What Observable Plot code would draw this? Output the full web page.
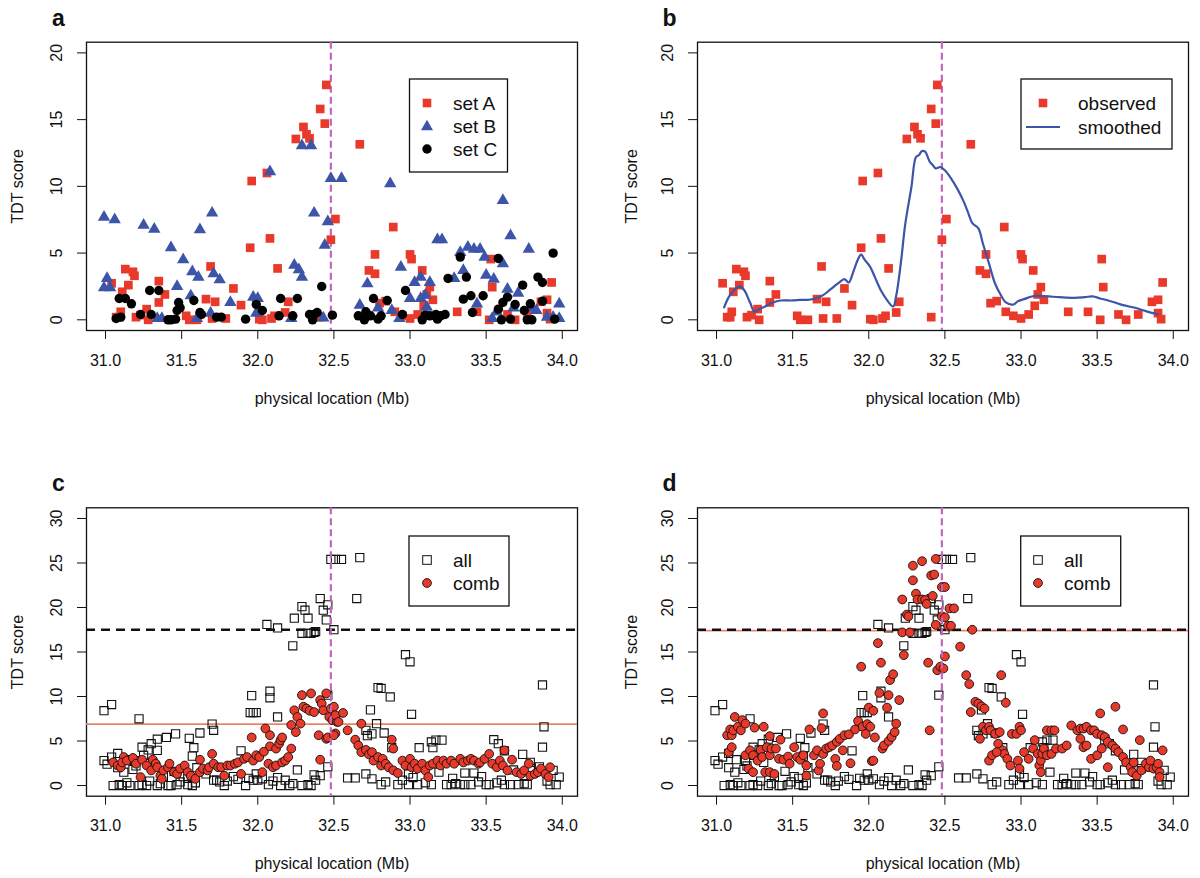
<!DOCTYPE html>
<html>
<head>
<meta charset="utf-8">
<script src="https://cdn.jsdelivr.net/npm/d3@7"></script>
<script src="https://cdn.jsdelivr.net/npm/@observablehq/plot@0.6"></script>
<style>
  html, body { margin: 0; padding: 0; background: #fff; }
  #wrap { position: relative; width: 1200px; height: 878px; font-family: "Liberation Sans", Arial, Helvetica, sans-serif; }
  .panel { position: absolute; }
</style>
</head>
<body>
<div id="wrap">
  <div class="panel" id="pa" style="left:0;top:0"></div>
  <div class="panel" id="pb" style="left:600px;top:0"></div>
  <div class="panel" id="pc" style="left:0;top:440px"></div>
  <div class="panel" id="pd" style="left:600px;top:440px"></div>
</div>
<script>
// ---------------- data ----------------
const xTicks = [31.0, 31.5, 32.0, 32.5, 33.0, 33.5, 34.0];
const yTicksTop = [0, 5, 10, 15, 20];
const yTicksBottom = [0, 5, 10, 15, 20, 25, 30];
const peakLocation = 32.48;
const thresholdAll = 17.5;
const thresholdCombC = 6.9;
const thresholdCombD = 17.4;

const legendA = ["set A", "set B", "set C"];
const legendB = ["observed", "smoothed"];
const legendCD = ["all", "comb"];
const panelLabels = ["a", "b", "c", "d"];

const setA = [[31.04,2.74],[31.07,0.2],[31.09,0.2],[31.10,0.6],[31.11,2.1],[31.13,3.8],[31.15,2.6],[31.18,3.6],[31.19,3.3],[31.20,0.2],[31.23,0.35],[31.27,0.8],[31.28,0.0],[31.35,2.9],[31.35,1.3],[31.39,1.9],[31.53,0.3],[31.55,0],[31.60,0],[31.66,1.55],[31.69,4.0],[31.70,0.1],[31.72,1.35],[31.79,0.1],[31.84,2.35],[31.89,1.1],[31.95,5.4],[31.96,10.4],[32.01,0.05],[32.03,0],[32.06,11.0],[32.08,6.1],[32.09,0.1],[32.11,0.3],[32.13,3.85],[32.18,0.55],[32.20,1.35],[32.25,13.55],[32.30,14.45],[32.32,13.9],[32.34,13.6],[32.41,15.8],[32.41,0.2],[32.44,14.7],[32.45,17.6],[32.48,6.0],[32.51,7.55],[32.67,13.15],[32.73,3.7],[32.77,4.9],[32.77,3.45],[32.80,1.25],[32.84,1.4],[32.89,6.95],[32.90,0.6],[32.95,0.3],[33.00,4.9],[33.01,4.55],[33.00,0.1],[33.05,0.4],[33.08,3.7],[33.09,1.05],[33.11,1.9],[33.13,2.45],[33.15,1.5],[33.31,0.6],[33.44,0.6],[33.52,0],[33.53,4.55],[33.54,2.45],[33.64,0.4],[33.69,0],[33.77,0.4],[33.86,1.35],[33.90,1.5],[33.90,0.5],[33.92,0.05],[33.93,2.8]];

const setB = [[30.99,7.7],[31.06,7.5],[31.01,3.1],[30.99,2.4],[31.03,2.4],[31.25,7.1],[31.32,6.8],[31.34,0.1],[31.37,0.1],[31.43,5.4],[31.47,2.5],[31.51,4.5],[31.57,3.6],[31.56,1.8],[31.60,0.1],[31.61,3.2],[31.62,6.75],[31.70,8.0],[31.71,3.45],[31.75,3.0],[31.69,0.5],[31.82,1.3],[31.97,1.7],[32.00,1.6],[31.99,0.5],[32.08,11.1],[32.22,0.1],[32.24,4.1],[32.27,3.75],[32.29,3.2],[32.29,13.05],[32.35,13.05],[32.37,8.0],[32.44,5.6],[32.46,7.35],[32.48,10.6],[32.55,10.6],[32.43,0.15],[32.67,1.1],[32.72,2.7],[32.79,0.9],[32.87,10.2],[32.88,0.7],[32.93,0.1],[32.94,3.95],[33.00,1.6],[33.03,2.8],[33.07,3.2],[33.07,1.6],[33.10,1.85],[33.11,0.95],[33.13,2.8],[33.18,6.0],[33.21,6.0],[33.29,3.1],[33.35,3.7],[33.33,5.05],[33.38,5.45],[33.42,5.3],[33.46,5.3],[33.44,1.2],[33.49,4.7],[33.50,3.35],[33.55,3.05],[33.54,0.1],[33.61,4.2],[33.61,8.95],[33.64,2.3],[33.66,6.3],[33.71,2.0],[33.68,0.9],[33.78,5.3],[33.80,0.9],[33.83,0.7],[33.90,0.2],[33.94,0.2],[33.98,1.2],[33.98,0.1],[33.57,0.6]];

const setC = [[31.07,0.1],[31.10,0.2],[31.09,1.6],[31.13,1.6],[31.17,1.2],[31.23,0.4],[31.29,2.2],[31.30,0.4],[31.35,2.2],[31.41,0],[31.43,0],[31.46,0.05],[31.47,0.7],[31.48,1.3],[31.49,0.9],[31.58,1.45],[31.62,0.55],[31.63,0.4],[31.73,0.2],[31.76,0.2],[31.92,0.05],[31.99,1.15],[32.03,0.7],[32.15,1.6],[32.14,0.3],[32.23,0.3],[32.26,1.6],[32.34,0.4],[32.37,0.4],[32.36,0],[32.39,0.55],[32.42,2.5],[32.49,0.35],[32.66,0.3],[32.70,0],[32.71,0.6],[32.74,0.3],[32.76,1.6],[32.79,0.05],[32.81,0.3],[32.85,1.45],[32.95,0.4],[32.97,2.2],[33.08,0],[33.10,0.35],[33.13,0.3],[33.17,0.4],[33.18,0.05],[33.20,0.3],[33.23,0.4],[33.25,3.1],[33.33,4.7],[33.35,1.55],[33.37,3.2],[33.40,1.8],[33.41,0.55],[33.48,1.8],[33.58,4.6],[33.58,0.8],[33.60,0],[33.61,1.3],[33.64,1.7],[33.66,0.05],[33.69,1.15],[33.74,2.6],[33.75,0.7],[33.77,0],[33.79,1.2],[33.80,0],[33.84,3.2],[33.87,2.8],[33.87,1.4],[33.94,5.0],[33.95,0.05]];

const smoothed = [[31.05,0.93],[31.08,1.7],[31.11,2.15],[31.15,2.5],[31.18,2.25],[31.22,1.3],[31.25,0.6],[31.28,0.8],[31.32,1.0],[31.37,1.3],[31.42,1.45],[31.50,1.45],[31.55,1.5],[31.60,1.5],[31.65,1.6],[31.70,1.85],[31.75,2.3],[31.80,2.75],[31.84,3.05],[31.86,2.85],[31.87,2.8],[31.90,3.65],[31.93,4.55],[31.95,4.9],[31.97,4.55],[32.01,3.95],[32.04,3.2],[32.08,2.2],[32.11,1.65],[32.16,1.0],[32.18,1.8],[32.21,4.2],[32.24,7.2],[32.28,9.95],[32.31,12.2],[32.33,12.35],[32.35,12.65],[32.37,12.6],[32.40,11.85],[32.42,11.6],[32.44,11.35],[32.47,11.45],[32.50,11.2],[32.54,10.6],[32.58,9.85],[32.62,8.95],[32.65,8.1],[32.68,7.25],[32.72,6.85],[32.75,5.7],[32.79,4.2],[32.83,2.7],[32.87,1.8],[32.90,1.3],[32.95,1.15],[32.98,1.4],[33.02,1.55],[33.07,1.75],[33.10,1.8],[33.18,1.75],[33.25,1.7],[33.35,1.65],[33.42,1.7],[33.47,1.75],[33.52,1.6],[33.60,1.35],[33.67,1.1],[33.75,0.9],[33.82,0.65],[33.90,0.4]];

const allMarkers = [[30.99,8.4],[31.04,9.1],[31.22,7.5],[30.99,2.8],[31.01,2.4],[31.04,3.2],[31.08,3.6],[31.12,1.5],[31.19,2.8],[31.24,4.3],[31.28,4.0],[31.30,4.7],[31.34,5.2],[31.34,3.95],[31.40,5.4],[31.46,5.8],[31.55,5.3],[31.58,4.25],[31.62,5.9],[31.57,3.3],[31.70,6.9],[31.71,6.2],[31.89,3.9],[31.96,10.1],[31.95,8.2],[31.97,8.2],[31.99,8.2],[32.08,10.6],[32.08,9.85],[32.13,7.7],[32.26,1.75],[32.46,2.1],[32.46,10.15],
[32.06,18.1],[32.13,17.7],[32.23,15.7],[32.24,18.8],[32.29,20.1],[32.31,19.7],[32.33,18.8],[32.29,17.1],[32.33,17.1],[32.35,17.1],[32.37,17.2],[32.38,17.3],[32.41,21.0],[32.43,19.7],[32.46,20.3],[32.45,18.6],[32.50,17.5],[32.48,25.4],[32.51,25.4],[32.55,25.4],[32.67,25.6],[32.65,21.0],
[31.05,0],[31.09,0.1],[31.11,0],[31.14,0.3],[31.16,0],[31.22,0],[31.24,0.1],[31.27,0],[31.29,0.5],[31.34,0],[31.36,0.2],[31.41,0],[31.43,0],[31.47,0.1],[31.49,0.4],[31.54,0.1],[31.57,0],[31.59,0.3],[31.71,0.6],[31.75,0.4],[31.78,0],[31.80,0.5],[31.92,0],[31.97,0.6],[31.99,1.3],[32.00,0.6],[32.03,0.75],[32.07,0.1],[32.10,0.5],[32.13,0.9],[32.15,0],[32.21,0],[32.23,0.2],[32.29,0],[32.33,0.1],[32.35,0],[32.38,0.6],[32.41,1.1],
[31.08,2.0],[31.13,2.9],[31.18,1.8],[31.20,2.2],[31.25,3.4],[31.31,2.6],[31.38,1.0],[31.45,1.6],[31.51,1.0],[31.54,0.8],[31.60,2.0],[31.66,1.3],[31.73,0.6],[31.84,1.0],[31.87,0.7],[31.94,0.8],[32.18,0.6],[32.37,1.2],
[32.59,0.85],[32.64,0.85],[32.97,14.7],[33.00,13.9],[32.79,11.0],[32.81,10.9],[32.87,9.95],[32.74,8.5],[33.01,8.0],[32.78,6.95],[32.71,6.2],[32.72,5.6],[32.75,5.8],[32.83,5.9],[32.88,4.25],[33.06,4.25],[33.15,4.25],[33.14,4.9],[33.17,5.1],[33.21,5.1],[33.55,5.15],[33.58,4.7],[33.62,3.9],[33.74,3.5],[33.87,11.3],[33.88,6.6],[33.87,4.3],[33.79,2.6],[33.85,2.1],[32.81,0.1],[32.75,0.75],[32.92,0.1],[32.99,0.1],[33.05,0.1],[33.14,0.1],[33.24,0.1],[33.27,0.1],[33.33,0.1],[33.36,0.1],[33.40,0.1],[33.50,0.1],[33.52,0.1],[33.62,0.1],[33.66,0.1],[33.71,0.1],[33.77,0.1],[33.92,0.1],[33.96,0.1],[33.98,0.95],[33.94,1.7],[33.36,1.4],[33.19,1.5],[32.99,1.3],[32.71,1.3],[33.79,1.9],[33.42,1.4],[33.68,1.75],[32.84,0.4],[32.95,0.6],[33.10,0.3],[33.30,0.2],[33.45,0.4],[33.57,0.3],[33.75,0.2],[33.90,0.5],[33.02,0.9],[33.28,0.8],[33.47,1.0],[33.60,0.6]];

const combC = [[31.05,2.6],[31.08,2.25],[31.10,2.05],[31.12,3.2],[31.11,2.6],[31.14,2.8],[31.18,3.1],[31.20,2.45],[31.23,0.95],[31.24,2.9],[31.27,2.25],[31.30,1.7],[31.31,2.9],[31.33,2.45],[31.34,2.05],[31.36,1.1],[31.37,0.75],[31.38,1.7],[31.41,2.05],[31.42,2.45],[31.45,1.5],[31.47,1.3],[31.49,1.9],[31.52,2.25],[31.54,1.5],[31.56,1.1],[31.59,0.75],[31.62,1.5],[31.62,2.9],[31.64,1.9],[31.67,1.7],[31.68,2.05],[31.70,3.55],[31.71,2.45],[31.74,2.05],[31.76,2.05],[31.78,1.1],[31.80,2.25],[31.82,2.25],[31.85,2.45],[31.87,2.6],[31.89,1.3],[31.91,3.0],[31.93,3.2],[31.96,5.4],[31.97,2.8],[31.99,3.4],[32.01,3.2],[32.03,1.5],[32.04,3.8],[32.05,6.4],[32.07,2.45],[32.08,5.65],[32.08,4.4],[32.10,2.05],[32.12,2.25],[32.12,4.15],[32.14,4.7],[32.15,5.1],[32.16,5.4],[32.16,2.6],[32.18,2.8],[32.20,3.2],[32.22,4.15],[32.22,6.8],[32.24,8.45],[32.25,6.0],[32.26,7.7],[32.28,6.95],[32.29,10.15],[32.30,8.85],[32.32,8.65],[32.34,8.4],[32.35,10.35],[32.37,8.25],[32.40,5.65],[32.41,9.6],[32.41,2.9],[32.42,9.2],[32.43,8.45],[32.45,10.35],[32.45,5.25],[32.46,5.4],[32.47,7.7],[32.48,8.65],[32.49,7.35],[32.51,5.85],[32.52,7.15],
[32.50,8.85],[32.51,7.9],[32.50,5.65],[32.53,7.15],[32.56,8.15],[32.59,6.2],[32.64,5.15],[32.68,6.95],[32.66,4.5],[32.68,3.75],[32.71,4.0],[32.73,3.5],[32.75,3.75],[32.76,2.8],[32.79,3.2],[32.81,2.25],[32.82,3.0],[32.84,2.45],[32.86,2.05],[32.88,5.15],[32.89,4.15],[32.89,1.7],[32.92,1.4],[32.95,2.8],[32.97,2.25],[33.00,3.0],[33.01,2.05],[33.03,2.45],[33.05,1.9],[33.08,2.45],[33.10,1.7],[33.12,0.95],[33.13,2.25],[33.15,2.45],[33.18,2.8],[33.20,2.25],[33.22,2.8],[33.24,2.45],[33.27,2.8],[33.29,2.45],[33.33,3.0],[33.35,2.6],[33.38,2.8],[33.40,3.0],[33.42,2.8],[33.45,2.45],[33.46,2.6],[33.49,3.0],[33.52,3.55],[33.54,2.45],[33.57,2.05],[33.59,2.8],[33.61,2.25],[33.62,3.95],[33.64,1.7],[33.67,2.9],[33.70,1.5],[33.73,1.3],[33.75,1.7],[33.78,2.45],[33.79,1.1],[33.82,1.3],[33.84,1.5],[33.86,1.9],[33.89,1.3],[33.92,2.05],[33.91,0.95]];

const combD = [[31.07,5.65],[31.09,6.3],[31.10,5.65],[31.11,6.2],[31.12,7.7],[31.14,6.6],[31.16,6.2],[31.17,7.35],[31.19,6.95],[31.25,6.5],[31.31,6.6],[31.35,5.55],[31.42,5.15],[31.08,3.75],[31.10,4.3],[31.19,3.4],[31.22,3.95],[31.24,3.4],[31.27,2.8],[31.29,4.0],[31.30,3.2],[31.33,4.3],[31.35,3.4],[31.36,4.15],[31.39,4.15],[31.41,3.0],[31.44,2.9],[31.21,1.9],[31.24,1.5],[31.32,1.5],[31.35,1.5],[31.38,1.3],[31.47,3.25],[31.48,2.45],[31.51,4.3],[31.53,3.2],[31.55,2.9],[31.57,3.4],[31.59,2.25],[31.59,1.1],[31.61,6.3],[31.64,3.4],[31.66,3.95],[31.67,1.7],[31.68,2.45],[31.69,6.45],[31.70,8.1],[31.70,3.55],[31.72,4.15],[31.74,4.3],[31.76,4.5],[31.78,3.0],[31.79,4.9],[31.79,2.2],[31.81,5.25],[31.83,3.95],[31.84,5.65],[31.87,5.75],[31.88,2.5],[31.91,6.3],[31.93,7.25],[31.95,13.35],[31.96,6.6],[31.98,5.8],[31.99,6.9],[32.00,8.75],[32.01,6.6],[32.02,2.75],[32.03,2.8],[32.03,8.4],[32.04,5.4],[32.06,16.0],[32.07,10.4],[32.08,13.8],[32.09,4.15],[32.10,4.5],[32.12,8.75],[32.13,5.0],[32.13,10.15],[32.14,11.85],[32.15,5.45],[32.16,12.5],[32.17,6.0],[32.18,6.95],[32.20,9.6],[32.22,20.9],[32.23,14.65],[32.22,17.2],[32.25,19.2],[32.26,19.0],[32.27,17.2],[32.29,24.7],[32.29,23.05],[32.31,21.55],[32.32,20.9],[32.35,25.2],[32.35,20.9],[32.37,20.85],[32.38,20.4],[32.39,13.8],[32.40,6.2],[32.41,23.6],[32.42,21.3],[32.43,23.7],[32.44,25.45],[32.44,18.05],[32.45,12.95],[32.47,13.35],[32.48,22.3],[32.48,19.0],[32.50,14.5],[32.52,17.95],[32.53,19.9],
[32.50,22.3],[32.50,18.9],[32.49,13.15],[32.54,17.95],[32.56,19.9],[32.60,15.6],[32.64,12.4],[32.66,11.4],[32.68,17.5],[32.67,8.25],[32.70,9.4],[32.72,9.2],[32.74,8.9],[32.76,8.65],[32.87,12.4],[32.90,9.3],[32.73,5.25],[32.75,6.6],[32.77,6.2],[32.79,6.6],[32.80,6.2],[32.83,5.8],[32.85,4.7],[32.86,6.0],[32.88,3.95],[32.89,3.55],[32.91,3.0],[32.94,5.8],[32.97,5.8],[32.99,6.6],[33.00,6.2],[32.79,2.8],[32.81,3.4],[32.84,3.75],[32.93,2.25],[32.98,2.8],[32.99,1.9],[33.02,3.75],[33.05,3.0],[33.09,5.1],[33.08,4.15],[33.11,3.55],[33.12,2.25],[33.13,2.8],[33.14,3.55],[33.15,4.15],[33.13,1.5],[33.17,6.2],[33.20,6.2],[33.22,6.2],[33.17,3.4],[33.20,3.55],[33.23,4.15],[33.27,4.15],[33.30,4.5],[33.33,6.75],[33.37,6.2],[33.39,6.4],[33.41,6.4],[33.43,6.6],[33.46,6.2],[33.48,6.2],[33.50,5.8],[33.52,8.1],[33.53,5.65],[33.55,5.45],[33.62,8.85],[33.67,6.3],[33.57,4.9],[33.60,4.5],[33.62,4.15],[33.39,5.25],[33.41,4.3],[33.43,4.5],[33.46,3.0],[33.50,3.4],[33.53,4.15],[33.57,2.05],[33.64,3.75],[33.67,3.2],[33.69,2.6],[33.72,2.05],[33.73,1.5],[33.74,2.6],[33.76,1.1],[33.78,5.1],[33.79,1.7],[33.82,2.45],[33.84,2.05],[33.85,2.8],[33.87,1.9],[33.89,2.05],[33.90,2.45],[33.91,1.5],[33.93,3.95],[33.91,0.95]];

// ---------------- styles ----------------
const FONT = '"Liberation Sans", Arial, Helvetica, sans-serif';
const RED = "#E8392A";
const BLUE = "#3D55A8";
const PURPLE = "#C466BE";
const SALMON = "#E98466";
const XDOMAIN = [30.875, 34.1];

function axesAndText(yTicks, label, opts) {
  return [
    Plot.frame({stroke: "#111", strokeWidth: 1.3}),
    Plot.axisX({ticks: xTicks, tickSize: 9, tickFormat: () => "", stroke: "#111"}),
    Plot.axisY({ticks: yTicks, tickSize: 9, tickFormat: () => "", stroke: "#111"}),
    Plot.text(xTicks, {x: d => d, text: d => d.toFixed(1), frameAnchor: "bottom", dy: 30, lineAnchor: "middle", fontSize: 16, fill: "#111"}),
    Plot.text(yTicks, {y: d => d, text: d => String(d), frameAnchor: "left", dx: -30, rotate: -90, textAnchor: "middle", lineAnchor: "middle", fontSize: 16, fill: "#111"}),
    Plot.text(["physical location (Mb)"], {frameAnchor: "bottom", dy: 68, lineAnchor: "middle", fontSize: 16, fill: "#111"}),
    Plot.text(["TDT score"], {frameAnchor: "left", dx: opts.titleDx, rotate: -90, textAnchor: "middle", lineAnchor: "middle", fontSize: 16, fill: "#111"}),
    Plot.text([label], {frameAnchor: "top-left", dx: -28, dy: -24, textAnchor: "middle", lineAnchor: "middle", fontSize: 23, fontWeight: "bold", fill: "#111"})
  ];
}

function legend(svg, box, items) {
  const g = d3.select(svg).append("g").attr("font-family", FONT).attr("text-anchor", "start");
  g.append("rect").attr("x", box.x).attr("y", box.y).attr("width", box.w).attr("height", box.h)
    .attr("fill", "white").attr("stroke", "#111").attr("stroke-width", 1.3);
  items.forEach((it, i) => {
    const cy = box.row0 + i * box.rowGap;
    const sx = box.symX;
    if (it.kind === "square") {
      g.append("rect").attr("x", sx - 4.3).attr("y", cy - 4.3).attr("width", 8.6).attr("height", 8.6).attr("fill", it.fill).attr("stroke", it.stroke || "none").attr("stroke-width", 1);
    } else if (it.kind === "triangle") {
      const s = 12, h = s * Math.sqrt(3) / 2;
      g.append("path").attr("d", `M${sx},${cy - h * 0.6}L${sx + s / 2},${cy + h * 0.4}L${sx - s / 2},${cy + h * 0.4}Z`).attr("fill", it.fill);
    } else if (it.kind === "circle") {
      g.append("circle").attr("cx", sx).attr("cy", cy).attr("r", it.r || 4.7).attr("fill", it.fill).attr("stroke", it.stroke || "none").attr("stroke-width", 0.9);
    } else if (it.kind === "line") {
      g.append("line").attr("x1", sx - 17).attr("x2", sx + 17).attr("y1", cy).attr("y2", cy).attr("stroke", it.stroke).attr("stroke-width", 2.2);
    }
    g.append("text").attr("x", box.textX).attr("y", cy).attr("dy", "0.35em").attr("text-anchor", "start")
      .attr("font-size", 19).attr("fill", "#111").text(it.label);
  });
}

const common = {width: 600, style: {fontFamily: FONT, background: "white", overflow: "visible"}};

// ---------------- panel a ----------------
const pa = Plot.plot({
  ...common, height: 440,
  marginLeft: 86, marginRight: 23, marginTop: 41.7, marginBottom: 110,
  x: {domain: XDOMAIN}, y: {domain: [-0.8, 20.8]},
  marks: [
    ...axesAndText(yTicksTop, panelLabels[0], {titleDx: -69}),
    Plot.ruleX([peakLocation], {stroke: PURPLE, strokeWidth: 2.2, strokeDasharray: "7,4"}),
    Plot.dot(setA, {x: d => d[0], y: d => d[1], symbol: "square", r: 4.9, fill: RED}),
    Plot.dot(setB, {x: d => d[0], y: d => d[1], symbol: "triangle", r: 4.6, fill: BLUE}),
    Plot.dot(setC, {x: d => d[0], y: d => d[1], r: 4.7, fill: "black"})
  ]
});
document.getElementById("pa").appendChild(pa);
legend(pa, {x: 409.5, y: 79, w: 98, h: 93, row0: 103, rowGap: 23, symX: 427, textX: 453}, [
  {kind: "square", fill: RED, label: legendA[0]},
  {kind: "triangle", fill: BLUE, label: legendA[1]},
  {kind: "circle", fill: "black", label: legendA[2]}
]);

// ---------------- panel b ----------------
const pb = Plot.plot({
  ...common, height: 440,
  marginLeft: 97, marginRight: 12, marginTop: 41.7, marginBottom: 110,
  x: {domain: XDOMAIN}, y: {domain: [-0.8, 20.8]},
  marks: [
    ...axesAndText(yTicksTop, panelLabels[1], {titleDx: -66}),
    Plot.ruleX([peakLocation], {stroke: PURPLE, strokeWidth: 2.2, strokeDasharray: "7,4"}),
    Plot.dot(setA, {x: d => d[0], y: d => d[1], symbol: "square", r: 4.9, fill: RED}),
    Plot.line(smoothed, {x: d => d[0], y: d => d[1], stroke: BLUE, strokeWidth: 2.2, curve: "catmull-rom"})
  ]
});
document.getElementById("pb").appendChild(pb);
legend(pb, {x: 421, y: 79, w: 151, h: 70, row0: 103, rowGap: 24, symX: 443, textX: 478}, [
  {kind: "square", fill: RED, label: legendB[0]},
  {kind: "line", stroke: BLUE, label: legendB[1]}
]);

// ---------------- panel c ----------------
const pc = Plot.plot({
  ...common, height: 438,
  marginLeft: 86, marginRight: 23, marginTop: 67.3, marginBottom: 82.3,
  x: {domain: XDOMAIN}, y: {domain: [-1.2, 31.2]},
  marks: [
    ...axesAndText(yTicksBottom, panelLabels[2], {titleDx: -69}),
    Plot.ruleY([thresholdCombC], {stroke: SALMON, strokeWidth: 1.6}),
    Plot.ruleY([thresholdAll], {stroke: "#111", strokeWidth: 2.5, strokeDasharray: "9,6"}),
    Plot.dot(allMarkers, {x: d => d[0], y: d => d[1], symbol: "square", r: 4.6, fill: "white", fillOpacity: 0, stroke: "#111", strokeWidth: 1.1}),
    Plot.dot(combC, {x: d => d[0], y: d => d[1], r: 4.4, fill: RED, stroke: "#111", strokeWidth: 0.9}),
    Plot.ruleX([peakLocation], {stroke: PURPLE, strokeWidth: 2.2, strokeDasharray: "7,4"})
  ]
});
document.getElementById("pc").appendChild(pc);
legend(pc, {x: 409, y: 96, w: 100, h: 70, row0: 120, rowGap: 23, symX: 427, textX: 453}, [
  {kind: "square", fill: "white", stroke: "#111", label: legendCD[0]},
  {kind: "circle", fill: RED, stroke: "#111", r: 4.4, label: legendCD[1]}
]);

// ---------------- panel d ----------------
const pd = Plot.plot({
  ...common, height: 438,
  marginLeft: 97, marginRight: 12, marginTop: 67.3, marginBottom: 82.3,
  x: {domain: XDOMAIN}, y: {domain: [-1.2, 31.2]},
  marks: [
    ...axesAndText(yTicksBottom, panelLabels[3], {titleDx: -66}),
    Plot.ruleY([thresholdCombD], {stroke: SALMON, strokeWidth: 1.6}),
    Plot.ruleY([thresholdAll], {stroke: "#111", strokeWidth: 2.5, strokeDasharray: "9,6"}),
    Plot.dot(allMarkers, {x: d => d[0], y: d => d[1], symbol: "square", r: 4.6, fill: "white", fillOpacity: 0, stroke: "#111", strokeWidth: 1.1}),
    Plot.dot(combD, {x: d => d[0], y: d => d[1], r: 4.4, fill: RED, stroke: "#111", strokeWidth: 0.9}),
    Plot.ruleX([peakLocation], {stroke: PURPLE, strokeWidth: 2.2, strokeDasharray: "7,4"})
  ]
});
document.getElementById("pd").appendChild(pd);
legend(pd, {x: 420.7, y: 96, w: 100, h: 70, row0: 120, rowGap: 23, symX: 438, textX: 464}, [
  {kind: "square", fill: "white", stroke: "#111", label: legendCD[0]},
  {kind: "circle", fill: RED, stroke: "#111", r: 4.4, label: legendCD[1]}
]);
</script>
</body>
</html>
